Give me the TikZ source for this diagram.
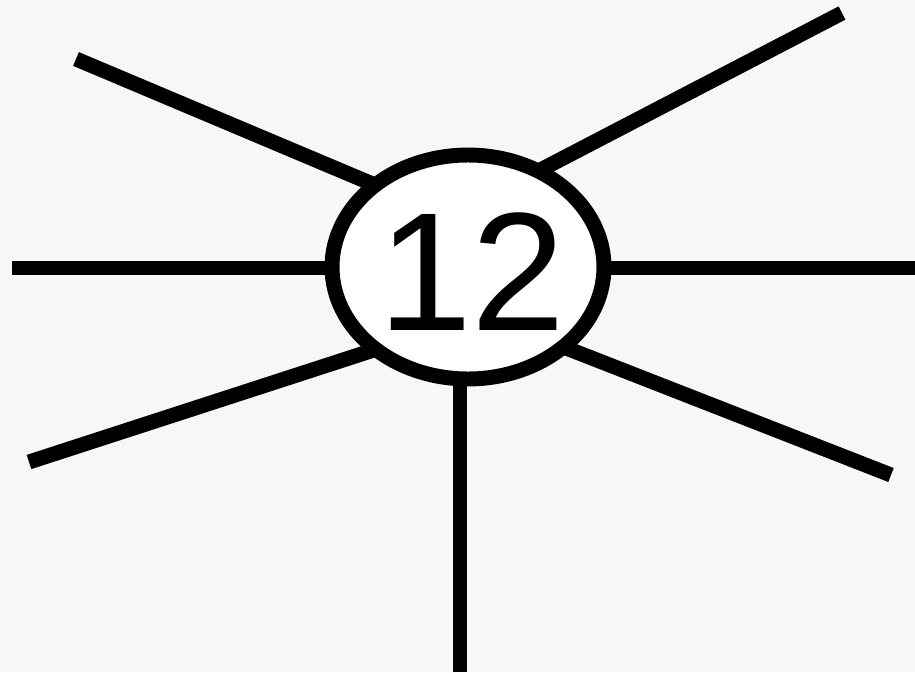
\documentclass[tikz,border=0pt]{standalone}
\usepackage{fontspec}
\setmainfont{Liberation Sans}
\usetikzlibrary{shapes.geometric}
\definecolor{bgpaper}{RGB}{247,247,247}
\tikzset{spoke/.style={line width=8.5pt,line cap=butt},
  hub/.style={ellipse,draw,line width=8.5pt,fill=white,minimum width=5.44cm,minimum height=4.48cm,inner sep=0pt}}
\begin{document}
\begin{tikzpicture}[x=.02cm,y=-.02cm]
        \fill[bgpaper] (0,0) rectangle (915,672);
        \useasboundingbox (0,0) rectangle (915,672);
        % outer ends
        \coordinate (nw) at (76,59); \coordinate (ne) at (842,13);
        \coordinate (w) at (12,268); \coordinate (e) at (915,268);
        \coordinate (sw) at (29,462); \coordinate (se) at (891,475);
        \coordinate (s) at (460,672);
        % inner ends
        \coordinate (nwi) at (420,204); \coordinate (nei) at (500,191);
        \coordinate (wi) at (400,268); \coordinate (ei) at (540,268);
        \coordinate (swi) at (420,335); \coordinate (sei) at (520,330);
        \coordinate (si) at (460,330);
        \foreach \a in {nw,ne,w,e,sw,se,s} \draw[spoke] (\a) -- (\a i);
        \node[hub] (num) at (468,267) {};
        \node[font=\fontsize{96}{96}\selectfont,inner sep=0pt] (lbl) at (472,272) {12};
      \end{tikzpicture}
\end{document}
